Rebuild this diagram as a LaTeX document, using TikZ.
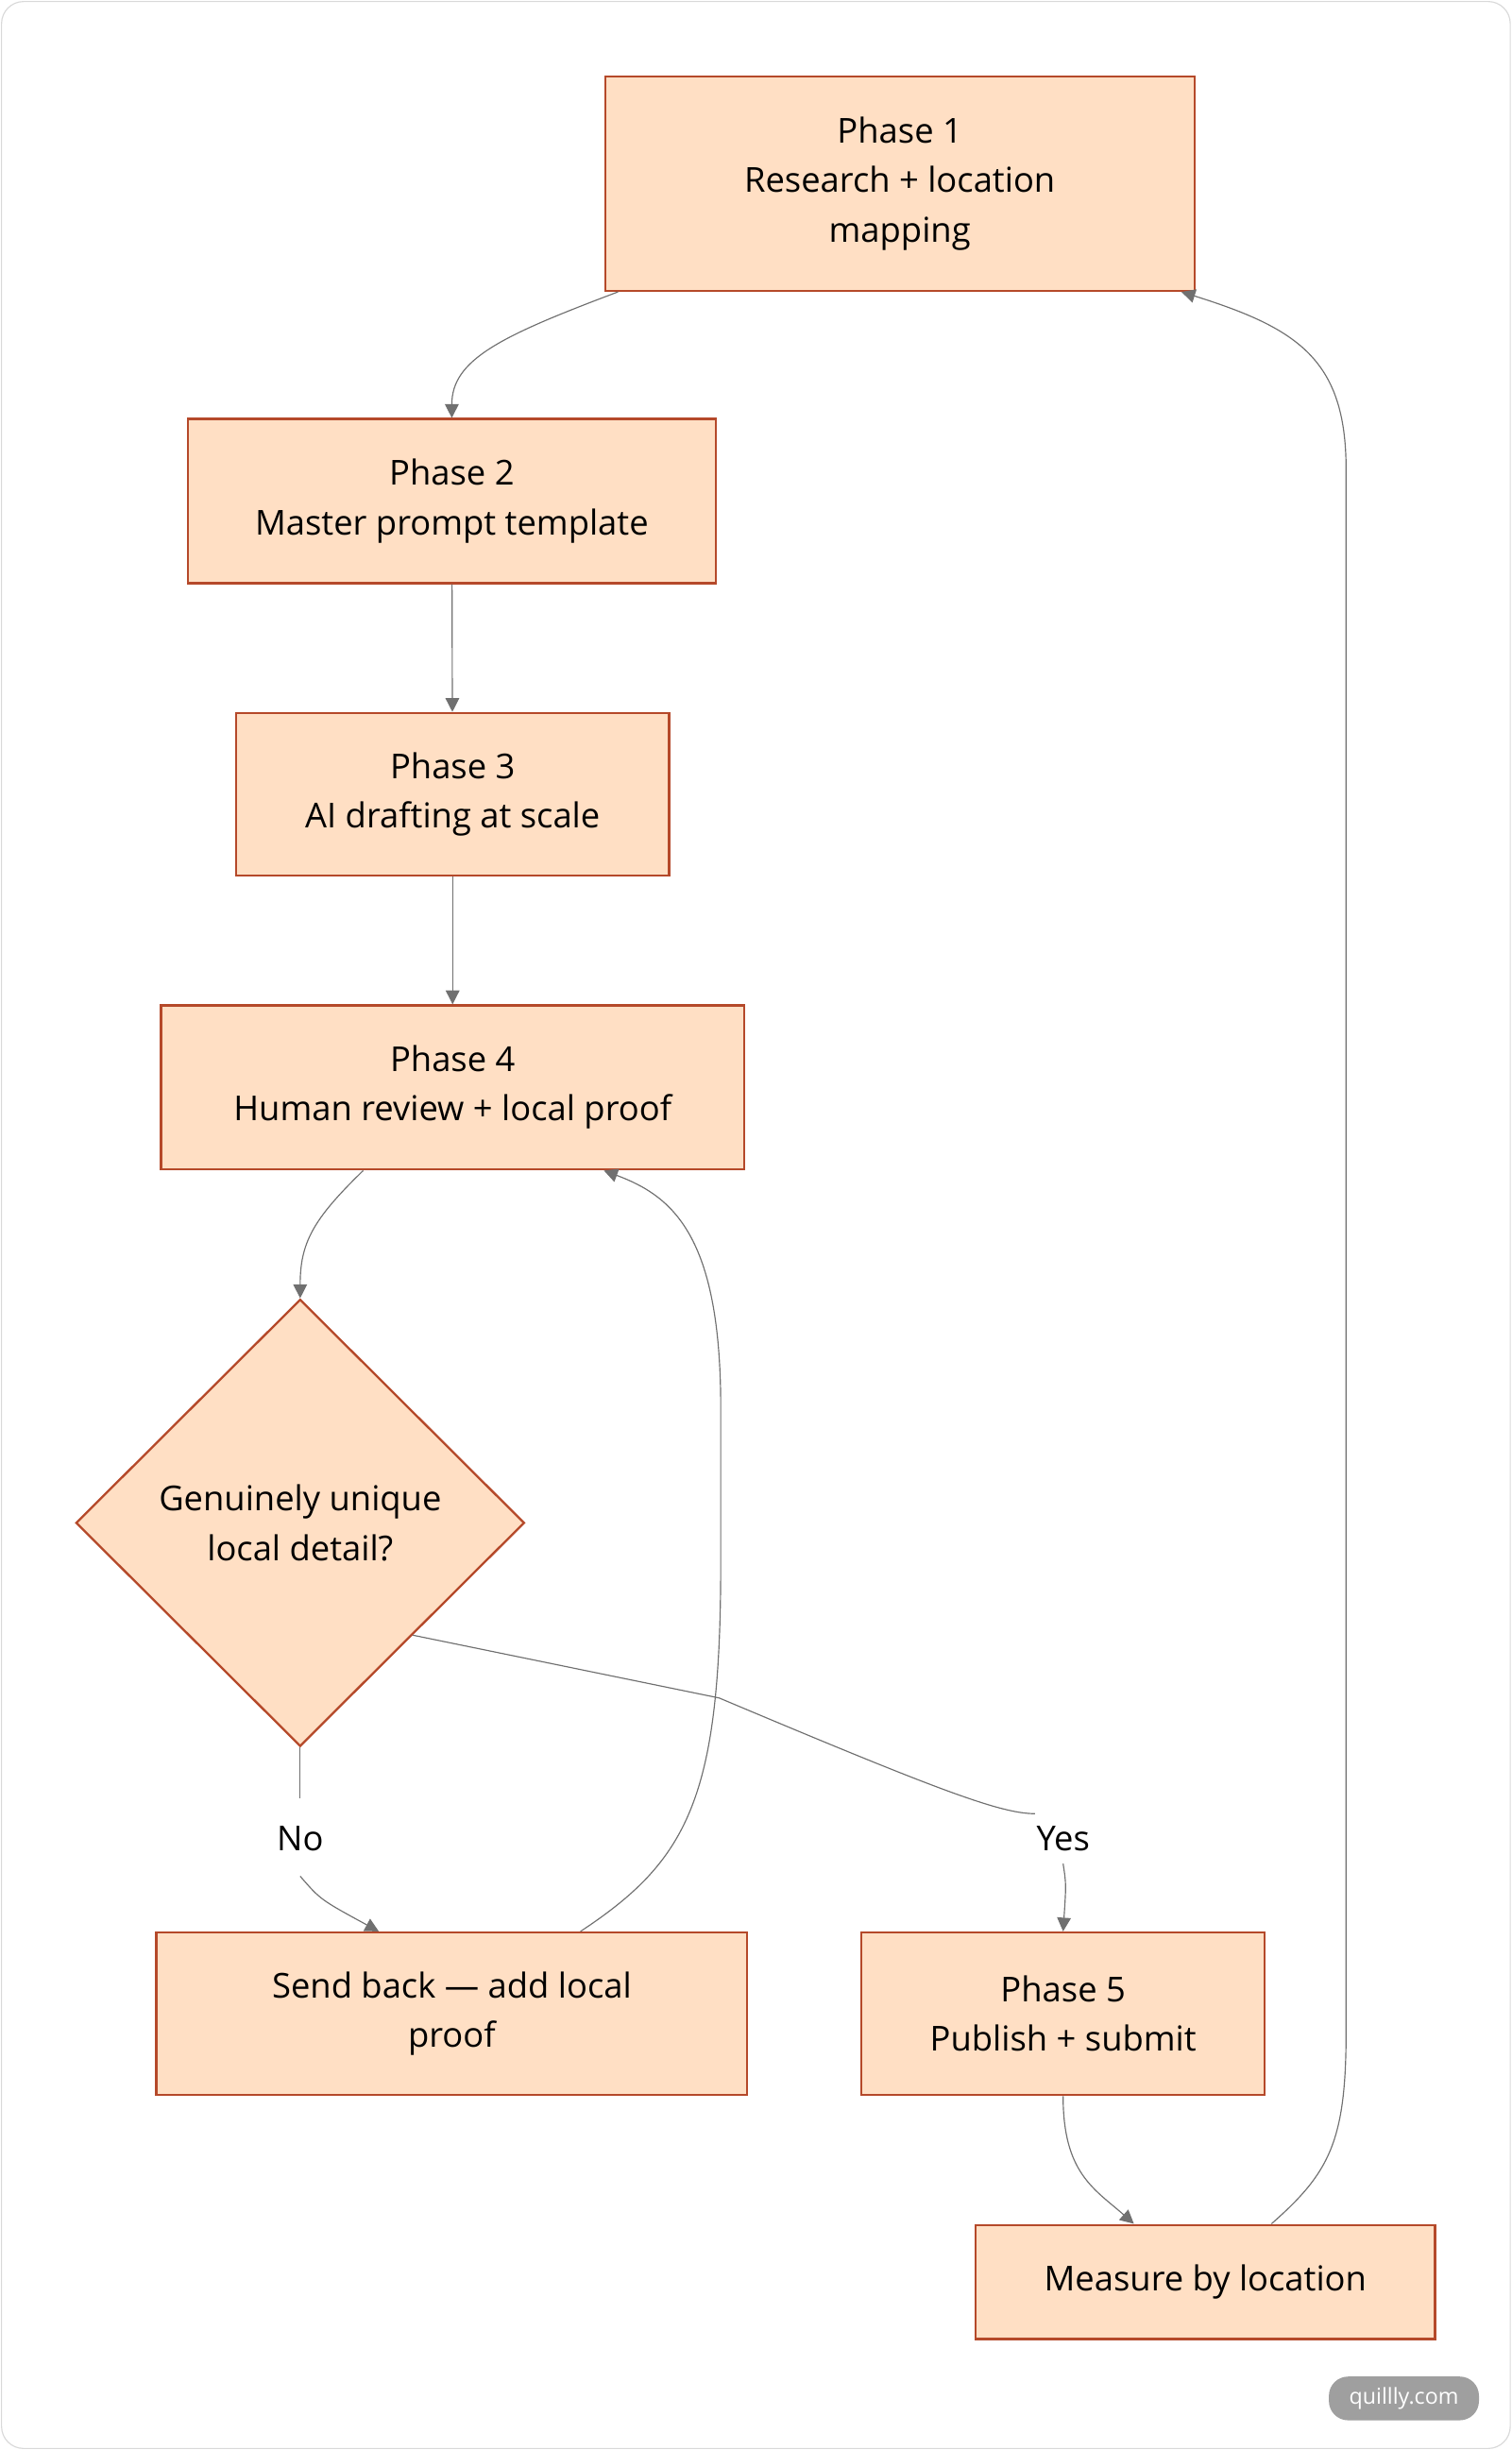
\documentclass[tikz,border=0pt]{standalone}
\usepackage{fontspec}
\setmainfont{Open Sans}
\usetikzlibrary{arrows.meta}
\usetikzlibrary{shapes.geometric}
\usetikzlibrary{calc}
\definecolor{boxfill}{HTML}{FFDFC4}
\definecolor{boxline}{HTML}{B5492A}
\definecolor{flowgray}{HTML}{707070}
\tikzset{
  phase/.style={draw=boxline, fill=boxfill, thick, align=center, inner sep=0pt,
    font=\fontsize{12.5}{18}\selectfont},
  check/.style={phase, diamond, minimum width=5.74cm, minimum height=5.72cm},
  flow/.style={draw=flowgray, thin, -{Triangle[length=5pt,width=5pt]}},
  tag/.style={fill=white, inner sep=2pt, font=\fontsize{12.5}{18}\selectfont}
}
\begin{document}
\begin{tikzpicture}[x=0.02cm, y=-0.02cm]
      \useasboundingbox (0,0) rectangle (967,1567);
      \draw[gray!30, rounded corners=8pt] (1,1) rectangle (966,1566);

      \node[phase, minimum width=7.54cm, minimum height=2.74cm] (p1) at (575.5,117.5) {Phase 1\\Research + location\\mapping};
      \node[phase, minimum width=6.76cm, minimum height=2.1cm] (p2) at (289,320.5) {Phase 2\\Master prompt template};
      \node[phase, minimum width=5.54cm, minimum height=2.08cm] (p3) at (289.5,508) {Phase 3\\AI drafting at scale};
      \node[phase, minimum width=7.46cm, minimum height=2.1cm] (p4) at (289.5,695.5) {Phase 4\\Human review + local proof};
      \node[check] (q) at (192,974) {Genuinely unique\\local detail?};
      \node[phase, minimum width=7.56cm, minimum height=2.08cm] (back) at (289,1288) {Send back — add local\\proof};
      \node[phase, minimum width=5.16cm, minimum height=2.08cm] (p5) at (680,1288) {Phase 5\\Publish + submit};
      \node[phase, minimum width=5.88cm, minimum height=1.46cm] (meas) at (771,1459.5) {Measure by location};

      % connectors
      \draw[flow] ([xshift=0.18cm]p1.south west) .. controls (320,215) and (289,230) .. (p2.north);
      \draw[flow] (p2) -- (p3);
      \draw[flow] (p3) -- (p4);
      \draw[flow] ([xshift=2.6cm]p4.south west) .. controls (200,780) and (192,795) .. (q.north);
      \draw[draw=flowgray, thin] (q.south) -- (192,1150);
      \draw[flow] (192,1200) .. controls (205,1215) .. ([xshift=2.86cm]back.north west);
      \node[tag] (no) at (192,1176) {No};
      \draw[draw=flowgray, thin] ($(q.east)!0.5!(q.south)$) -- (460,1086) .. controls (600,1145) and (640,1160) .. (662,1160);
      \draw[flow] (680,1192) .. controls (682,1205) .. (p5.north);
      \node[tag] (yes) at (680,1176) {Yes};
      \draw[flow] ([xshift=5.44cm]back.north west) .. controls (440,1190) and (461,1150) .. (461,1000)
        -- (461,900) .. controls (461,790) and (430,765) .. ([xshift=5.68cm]p4.south west);
      \draw[flow] (p5.south) .. controls (680,1390) and (700,1400) .. ([xshift=2.04cm]meas.north west);
      \draw[flow] ([xshift=3.8cm]meas.north west) .. controls (850,1390) and (861,1370) .. (861,1300)
        -- (861,300) .. controls (861,230) and (830,210) .. ([xshift=-0.18cm]p1.south east);

      \node[fill=gray!75, text=white, rounded corners=7pt, minimum width=1.92cm, minimum height=0.56cm,
        font=\fontsize{8}{10}\selectfont] (badge) at (898,1534) {quillly.com};
\end{tikzpicture}
\end{document}
